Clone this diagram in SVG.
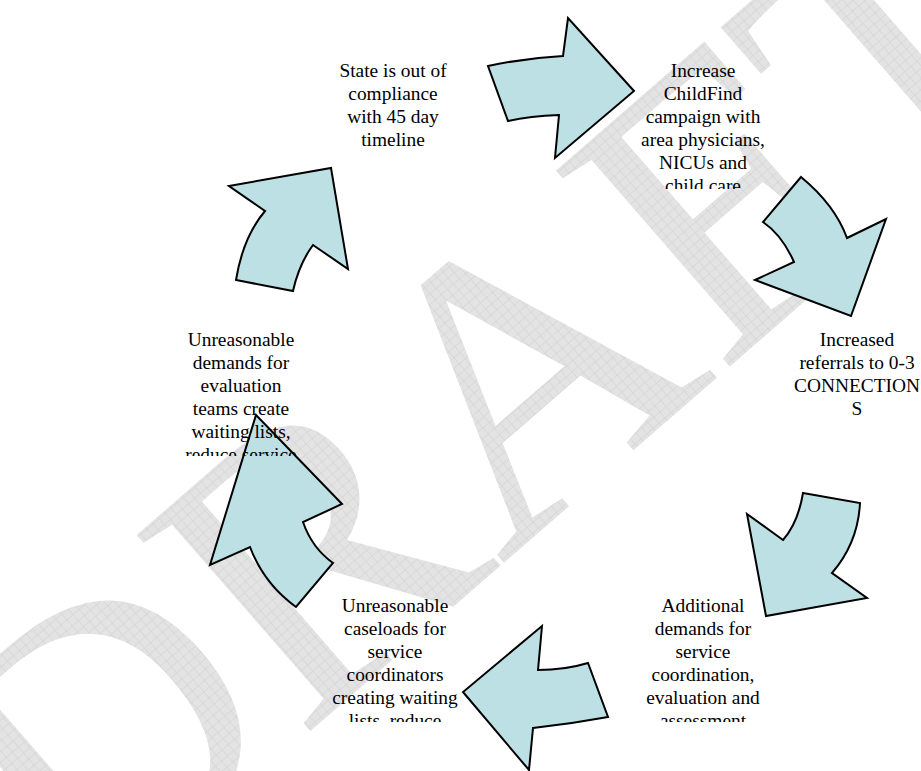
<svg xmlns="http://www.w3.org/2000/svg" width="921" height="771" viewBox="0 0 921 771">
<style>
.arrow{fill:#bce0e4;stroke:#000;stroke-width:2;stroke-linejoin:miter}
.lbl{font-family:"Liberation Serif","Times New Roman",serif;font-size:19.4px;fill:#000;text-anchor:middle}
.wm{font-family:"Liberation Serif","Times New Roman",serif;font-size:400px;fill:url(#grid);text-anchor:middle}
</style>
<defs>
<pattern id="grid" patternUnits="userSpaceOnUse" width="8" height="8">
<rect width="8" height="8" fill="#e3e3e3"/>
<path d="M0,0H8M0,0V8" stroke="#d0d0d0" stroke-width="1"/>
</pattern>
<clipPath id="c2"><rect x="630" y="50" width="160" height="139"/></clipPath>
<clipPath id="c4"><rect x="630" y="585" width="160" height="137"/></clipPath>
<clipPath id="c5"><rect x="320" y="585" width="160" height="137"/></clipPath>
<clipPath id="c6"><rect x="160" y="320" width="160" height="136"/></clipPath>
<clipPath id="page"><rect width="921" height="771"/></clipPath>
</defs>
<rect width="921" height="771" fill="#fff"/>
<g id="watermark" clip-path="url(#page)">
<text class="wm" transform="translate(490,400) rotate(-41)" x="0" y="132">DRAFT</text>
</g>
<g id="connectors">
<path class="arrow" d="M488,66 Q525,58 563,56 L568,18 L634,91 L555,158 L559,115 Q530,116 508,121 Z"/>
<path class="arrow" d="M801,177 L763,222 Q782,235 794,262 L755,280 L851,316 L886,219 L847,238 Q835,205 801,177 Z"/>
<path class="arrow" d="M803,493 L860,503 Q858,543 832,573 L867,598 L766,616 L747,514 L783,540 Q798,523 803,493 Z"/>
<path class="arrow" d="M542,626 L538,670 Q565,670 588,663 L608,717 Q570,724 533,728 L529,770 L463,692 Z"/>
<path class="arrow" d="M256,415 L342,504 L303,522 Q312,548 333,563 L296,607 Q264,584 250,547 L210,565 Z"/>
<path class="arrow" d="M229,186 L331,168 L348,269 L313,245 Q299,264 293,291 L236,280 Q243,237 265,211 Z"/>
</g>
<g id="node1">
<text class="lbl"><tspan x="393" y="77">State is out of</tspan><tspan x="393" y="100">compliance</tspan><tspan x="393" y="123">with 45 day</tspan><tspan x="393" y="146">timeline</tspan></text>
</g>
<g id="node2" clip-path="url(#c2)">
<text class="lbl"><tspan x="703" y="77">Increase</tspan><tspan x="703" y="100">ChildFind</tspan><tspan x="703" y="123">campaign with</tspan><tspan x="703" y="146">area physicians,</tspan><tspan x="703" y="169">NICUs and</tspan><tspan x="703" y="192">child care</tspan></text>
</g>
<g id="node3">
<text class="lbl"><tspan x="857" y="346">Increased</tspan><tspan x="857" y="369">referrals to 0-3</tspan><tspan x="857" y="392">CONNECTION</tspan><tspan x="857" y="415">S</tspan></text>
</g>
<g id="node4" clip-path="url(#c4)">
<text class="lbl"><tspan x="703" y="612">Additional</tspan><tspan x="703" y="635">demands for</tspan><tspan x="703" y="658">service</tspan><tspan x="703" y="681">coordination,</tspan><tspan x="703" y="704">evaluation and</tspan><tspan x="703" y="727">assessment</tspan></text>
</g>
<g id="node5" clip-path="url(#c5)">
<text class="lbl"><tspan x="395" y="612">Unreasonable</tspan><tspan x="395" y="635">caseloads for</tspan><tspan x="395" y="658">service</tspan><tspan x="395" y="681">coordinators</tspan><tspan x="395" y="704">creating waiting</tspan><tspan x="395" y="727">lists, reduce</tspan></text>
</g>
<g id="node6" clip-path="url(#c6)">
<text class="lbl"><tspan x="241" y="346">Unreasonable</tspan><tspan x="241" y="369">demands for</tspan><tspan x="241" y="392">evaluation</tspan><tspan x="241" y="415">teams create</tspan><tspan x="241" y="438">waiting lists,</tspan><tspan x="241" y="461">reduce service</tspan></text>
</g>
</svg>
